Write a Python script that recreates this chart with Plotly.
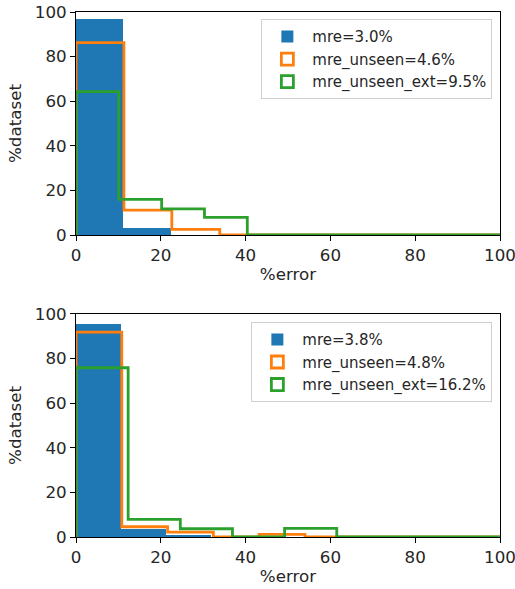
import numpy as np
import plotly.graph_objects as go

# ---------------- data ----------------
# top panel
top_mre_edges = [0, 11.2, 22.4]
top_mre_vals = [96.7, 3.3]
top_unseen_edges = [0, 11.3, 22.6, 33.9, 45.2, 56.5, 67.8, 79.1, 90.4, 101.7, 113.0]
top_unseen_vals = [86.3, 11.2, 2.5, 0, 0, 0, 0, 0, 0, 0]
top_ext_edges = [0, 10.1, 20.2, 30.3, 40.4, 50.5, 60.6, 70.7, 80.8, 90.9, 101.0]
top_ext_vals = [64.3, 16.0, 11.7, 7.9, 0, 0, 0, 0, 0, 0]
top_labels = ["mre=3.0%", "mre_unseen=4.6%", "mre_unseen_ext=9.5%"]

# bottom panel
bot_mre_edges = [0, 10.6, 21.2, 31.8]
bot_mre_vals = [95.4, 3.7, 0.9]
bot_unseen_edges = [0, 10.8, 21.6, 32.4, 43.2, 54.0, 64.8, 75.6, 86.4, 97.2, 108.0]
bot_unseen_vals = [91.9, 4.6, 2.2, 0, 1.2, 0, 0, 0, 0, 0]
bot_ext_edges = [0, 12.3, 24.6, 36.9, 49.2, 61.5, 73.8, 86.1, 98.4, 110.7, 123.0]
bot_ext_vals = [75.9, 7.9, 3.7, 0, 3.9, 0, 0, 0, 0, 0]
bot_labels = ["mre=3.8%", "mre_unseen=4.8%", "mre_unseen_ext=16.2%"]

x_ticks = [0, 20, 40, 60, 80, 100]
y_ticks = [0, 20, 40, 60, 80, 100]

BLUE, ORANGE, GREEN = "#1f77b4", "#ff7f0e", "#2ca02c"
FONT = "DejaVu Sans"
LW = 2.8

fig = go.Figure()


def step_xy(edges, vals):
    x = [edges[0]] + list(edges)
    y = [0] + list(vals) + [0]
    return x, y


def add_panel(xa, ya, leg, edges_b, vals_b, edges_o, vals_o, edges_g, vals_g, labels):
    e = np.array(edges_b, dtype=float)
    fig.add_trace(go.Bar(
        x=e[:-1], y=vals_b, width=np.diff(e), offset=0,
        marker=dict(color=BLUE, line=dict(width=0)),
        name=labels[0], xaxis=xa, yaxis=ya, legend=leg, showlegend=True,
    ))
    for edges, vals, col, lab in [(edges_o, vals_o, ORANGE, labels[1]),
                                  (edges_g, vals_g, GREEN, labels[2])]:
        sx, sy = step_xy(edges, vals)
        fig.add_trace(go.Scatter(
            x=sx, y=sy, mode="lines", line=dict(color=col, width=LW, shape="hv"),
            xaxis=xa, yaxis=ya, showlegend=False, hoverinfo="skip",
        ))
        # legend entry: hollow rectangle
        fig.add_trace(go.Bar(
            x=[None], y=[None], name=lab,
            marker=dict(color="rgba(255,255,255,0)", line=dict(color=col, width=LW)),
            xaxis=xa, yaxis=ya, legend=leg, showlegend=True,
        ))


add_panel("x", "y", "legend", top_mre_edges, top_mre_vals, top_unseen_edges, top_unseen_vals,
          top_ext_edges, top_ext_vals, top_labels)
add_panel("x2", "y2", "legend2", bot_mre_edges, bot_mre_vals, bot_unseen_edges, bot_unseen_vals,
          bot_ext_edges, bot_ext_vals, bot_labels)

TXT = "#262626"
axis_common = dict(
    showline=True, linecolor="black", linewidth=1, mirror=True,
    ticks="outside", ticklen=5, tickwidth=1, tickcolor="black",
    showgrid=False, zeroline=False, automargin=False,
    ticklabeloverflow="allow",
    tickfont=dict(family=FONT, size=16.7, color=TXT),
    title_font=dict(family=FONT, size=16.7, color=TXT),
)

TOP_DOM = [0.5752, 1.0]
BOT_DOM = [0.0, 0.4248]

leg_common = dict(xanchor="right", yanchor="top",
                  bgcolor="white", bordercolor="#d0d0d0", borderwidth=1,
                  font=dict(family=FONT, size=15, color=TXT),
                  itemwidth=40, traceorder="normal")

fig.update_layout(
    width=515, height=589,
    margin=dict(l=76, r=15, t=12, b=52),
    paper_bgcolor="white", plot_bgcolor="white",
    barmode="overlay", bargap=0,
    font=dict(family=FONT, color=TXT),
    xaxis=dict(domain=[0, 1], anchor="y", range=[0, 100], tickvals=x_ticks,
               title=dict(text="%error", standoff=4), **axis_common),
    yaxis=dict(domain=TOP_DOM, anchor="x", range=[0, 100], tickvals=y_ticks,
               title=dict(text="%dataset", standoff=8), **axis_common),
    xaxis2=dict(domain=[0, 1], anchor="y2", range=[0, 100], tickvals=x_ticks,
                title=dict(text="%error", standoff=4), **axis_common),
    yaxis2=dict(domain=BOT_DOM, anchor="x2", range=[0, 100], tickvals=y_ticks,
                title=dict(text="%dataset", standoff=8), **axis_common),
    legend=dict(x=0.982, y=0.986, **leg_common),
    legend2=dict(x=0.982, y=0.409, **leg_common),
)

fig.write_html(
    "out.html",
    config={"displayModeBar": False},
    post_script="document.body.style.margin='0px';document.body.style.overflow='hidden';",
)
